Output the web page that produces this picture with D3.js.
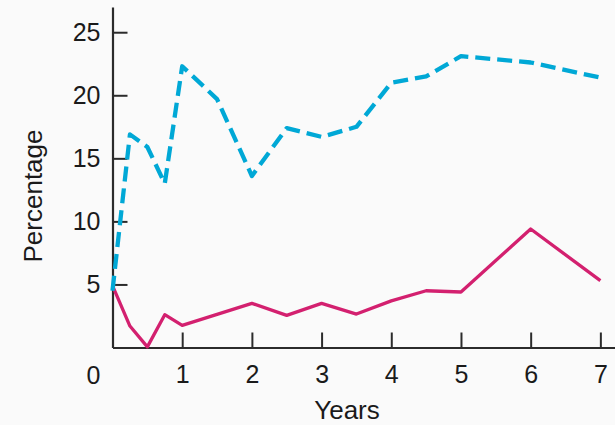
<!DOCTYPE html>
<html>
<head>
<meta charset="utf-8">
<script src="https://cdn.jsdelivr.net/npm/d3@7"></script>
<style>
  html, body { margin: 0; padding: 0; background: #fafafa; }
  svg { display: block; }
</style>
</head>
<body>
<svg id="chart" width="615" height="425"></svg>
<script>
const blueYears   = [0, 0.25, 0.5, 0.75, 1, 1.5, 2, 2.5, 3, 3.5, 4, 4.5, 5, 6, 7];
const blueValues  = [4.5, 16.9, 15.9, 13.0, 22.3, 19.7, 13.6, 17.4, 16.7, 17.5, 21.0, 21.5, 23.1, 22.6, 21.4];
const pinkYears   = [0, 0.25, 0.5, 0.75, 1, 2, 2.5, 3, 3.5, 4, 4.5, 5, 6, 7];
const pinkValues  = [4.9, 1.7, 0.05, 2.6, 1.75, 3.5, 2.55, 3.5, 2.65, 3.7, 4.5, 4.4, 9.4, 5.3];
const xTickValues = [1, 2, 3, 4, 5, 6, 7];
const yTickValues = [5, 10, 15, 20, 25];
const xTitle = "Years";
const yTitle = "Percentage";
const originLabel = "0";

const svg = d3.select("#chart");
const font = "'Liberation Sans', Arial, Helvetica, sans-serif";

const x = d3.scaleLinear().domain([0, 7.21]).range([112.5, 615]);
const y = d3.scaleLinear().domain([0, 27]).range([347.5, 7]);

const axisColor = "#2b2b2b";

const gx = svg.append("g").attr("transform", `translate(0,${y(0)})`)
  .call(d3.axisBottom(x).tickValues(xTickValues).tickFormat(d3.format("d"))
    .tickSize(-15).tickSizeOuter(0).tickPadding(18));
const gy = svg.append("g").attr("transform", `translate(${x(0)},0)`)
  .call(d3.axisLeft(y).tickValues(yTickValues).tickFormat(d3.format("d"))
    .tickSize(-15).tickSizeOuter(0).tickPadding(12));

[gx, gy].forEach(g => {
  g.select(".domain").attr("stroke", axisColor).attr("stroke-width", 2.2);
  g.selectAll(".tick line").attr("stroke", axisColor).attr("stroke-width", 2);
  g.selectAll(".tick text").attr("fill", "#1a1a1a")
    .style("font-family", font).style("font-size", "25px");
});

svg.append("text")
  .attr("x", x(0) - 19).attr("y", y(0) + 36)
  .attr("text-anchor", "middle")
  .style("font-family", font).style("font-size", "25px").attr("fill", "#1a1a1a")
  .text(originLabel);

svg.append("text")
  .attr("x", 347).attr("y", 419)
  .attr("text-anchor", "middle")
  .style("font-family", font).style("font-size", "26px").attr("fill", "#1a1a1a")
  .text(xTitle);

svg.append("text")
  .attr("transform", `translate(42,196) rotate(-90)`)
  .attr("text-anchor", "middle")
  .style("font-family", font).style("font-size", "26px").attr("fill", "#1a1a1a")
  .text(yTitle);

const line = d3.line().x(d => x(d[0])).y(d => y(d[1]));

svg.append("path")
  .datum(pinkYears.map((d, i) => [d, pinkValues[i]]))
  .attr("d", line)
  .attr("fill", "none")
  .attr("stroke", "#d3206f")
  .attr("stroke-width", 3.3)
  .attr("stroke-linejoin", "round");

svg.append("path")
  .datum(blueYears.map((d, i) => [d, blueValues[i]]))
  .attr("d", line)
  .attr("fill", "none")
  .attr("stroke", "#00a8d6")
  .attr("stroke-width", 4.3)
  .attr("stroke-dasharray", "15,7")
  .attr("stroke-linejoin", "round");
</script>
</body>
</html>
